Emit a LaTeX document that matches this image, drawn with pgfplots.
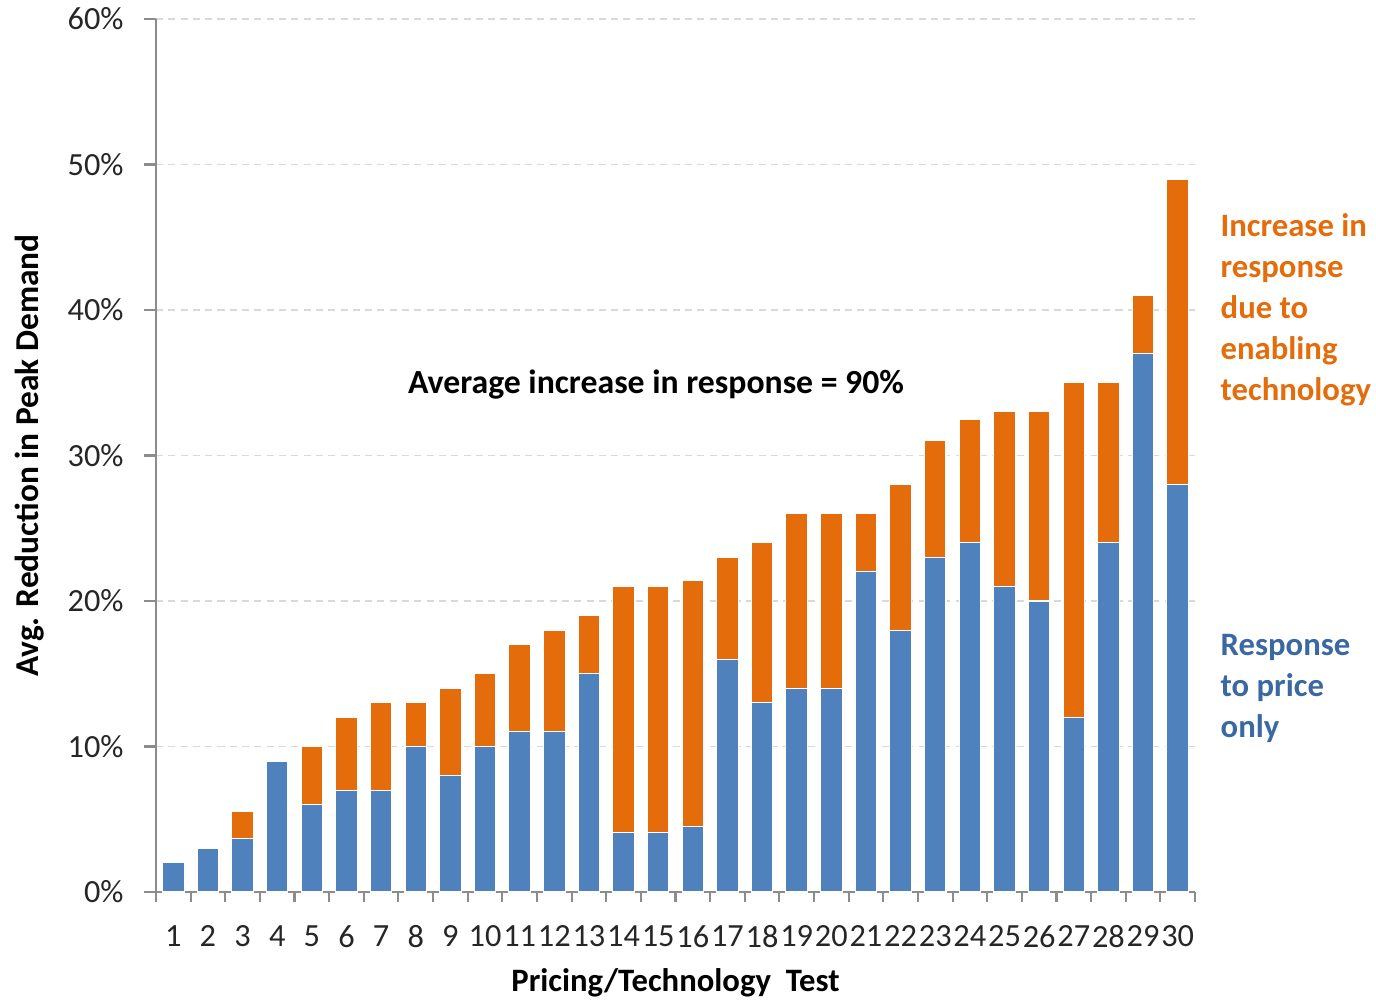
\documentclass[border=0pt]{standalone}
\usepackage{pgfplots}
\pgfplotsset{compat=1.18}
\usepackage{fontspec}
\setmainfont{Carlito}
\definecolor{barblue}{HTML}{4F81BD}
\definecolor{barorange}{HTML}{E46C0A}
\definecolor{txtblue}{HTML}{3A68A3}
\definecolor{axgray}{HTML}{8C8C8C}
\pgfplotstableread{
x blue orange
1 2 0
2 3 0
3 3.7 1.8
4 9 0
5 6 4
6 7 5
7 7 6
8 10 3
9 8 6
10 10 5
11 11 6
12 11 7
13 15 4
14 4.1 16.9
15 4.1 16.9
16 4.5 16.9
17 16 7
18 13 11
19 14 12
20 14 12
21 22 4
22 18 10
23 23 8
24 24 8.5
25 21 12
26 20 13
27 12 23
28 24 11
29 37 4
30 28 21
}\data
\begin{document}
\begin{tikzpicture}
\path[use as bounding box] (-1.56,-1.10) rectangle (12.20,8.92);
\begin{axis}[
  scale only axis,
  width=10.39cm, height=8.73cm,
  ybar stacked,
  bar width=0.215cm,
  xmin=0.5, xmax=30.5,
  ymin=0, ymax=60,
  clip=false,
  axis x line*=bottom,
  axis y line*=left,
  axis line style={axgray, line width=0.6pt, -},
  xtick={1,...,30},
  minor xtick={0.5,1.5,...,30.5},
  major x tick style={draw=none},
  minor x tick style={axgray, line width=0.6pt},
  minor tick length=0.1cm,
  ytick={0,10,...,60},
  y tick style={axgray, line width=0.6pt},
  major tick length=0.12cm,
  tick align=outside,
  ymajorgrids,
  grid style={dash pattern=on 2pt off 1.5pt, gray!30, line width=0.4pt},
  yticklabel={\pgfmathprintnumber{\tick}\%},
  /pgf/number format/assume math mode=true,
  ticklabel style={font=\fontsize{9.2}{10}\selectfont, text=black!85},
  xticklabel style={yshift=-0.09cm},
  yticklabel style={xshift=-0.08cm},
  xlabel={\bfseries Pricing/Technology\ \ Test},
  xlabel style={font=\fontsize{9.3}{10}\selectfont, at={(axis description cs:0.5,-0.104)}, anchor=center},
  ylabel={\bfseries Avg. Reduction in Peak Demand},
  ylabel style={font=\fontsize{9.5}{10}\selectfont, at={(axis description cs:-0.1213,0.5)}, anchor=center},
]
\addplot[fill=barblue, draw=white, line width=0.3pt] table[x=x, y=blue] {\data};
\addplot[fill=barorange, draw=white, line width=0.3pt] table[x=x, y=orange] {\data};
\node[font=\fontsize{9.6}{10}\selectfont\bfseries, anchor=center] at (axis cs:14.94,34.9) {Average increase in response = 90\%};
\node[font=\fontsize{9.3}{11.7}\selectfont\bfseries, text=barorange, anchor=west, align=left, inner sep=0pt] at ([xshift=0.25cm]axis cs:30.5,40.0) {Increase in\\response\\due to\\enabling\\technology};
\node[font=\fontsize{9.3}{11.7}\selectfont\bfseries, text=txtblue, anchor=west, align=left, inner sep=0pt] at ([xshift=0.25cm]axis cs:30.5,14.0) {Response\\to price\\only};
\end{axis}
\end{tikzpicture}
\end{document}
